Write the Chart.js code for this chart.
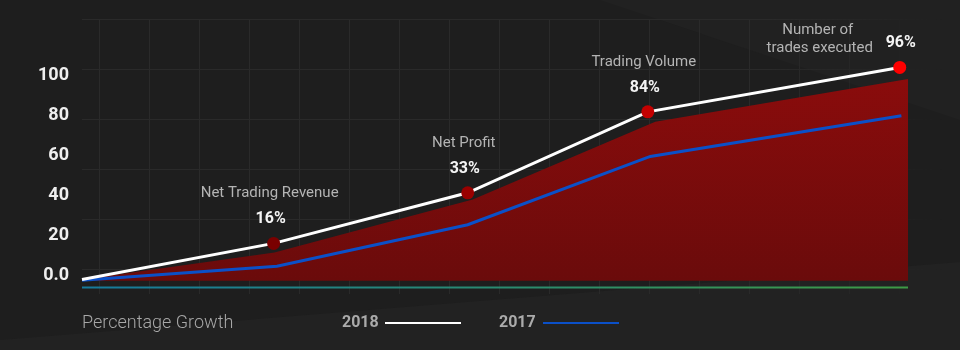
<!DOCTYPE html>
<html>
<head>
<meta charset="utf-8">
<script src="https://cdn.jsdelivr.net/npm/chart.js@4.4.1/dist/chart.umd.min.js"></script>
<style>
  html, body { margin: 0; padding: 0; background: #1e1e1e; }
  #wrap { position: relative; width: 960px; height: 350px; overflow: hidden; background: #1e1e1e; font-family: Roboto, "Noto Sans", sans-serif; }
  .shade { position: absolute; inset: 0; background: #222222; }
  #shade1 { clip-path: polygon(0 350px, 0 340px, 960px 262px, 960px 350px); }
  #shade2 { clip-path: polygon(600px 0, 960px 0, 960px 120px); background: #212121; }
  #grid {
    position: absolute; left: 82px; top: 19px; width: 860px; height: 275px;
    background-image:
      linear-gradient(to right, #2a2a2a 1px, transparent 1px),
      linear-gradient(to bottom, #2a2a2a 1px, transparent 1px);
    background-size: 50px 50px;
    background-position: 17px 0, 0 0;
    -webkit-mask-image: linear-gradient(to right, #000 80%, transparent);
  }
  canvas { position: absolute; left: 0; top: 0; }
  .leg { position: absolute; top: 311px; height: 22px; line-height: 22px; color: #a8a8a8; }
  #legTitle { left: 82px; font-size: 18px; font-weight: 300; }
  .legItem { font-size: 16px; font-weight: bold; color: #ababab; }
  .legLine { position: absolute; top: 11px; height: 2px; width: 76px; }
</style>
</head>
<body>
<div id="wrap">
  <div class="shade" id="shade1"></div>
  <div class="shade" id="shade2"></div>
  <div id="grid"></div>
  <canvas id="chart" width="960" height="350"></canvas>
  <div class="leg" id="legTitle">Percentage Growth</div>
  <div class="leg legItem" id="leg2018" style="left:342px">2018<span class="legLine" style="left:43px;background:#ffffff"></span></div>
  <div class="leg legItem" id="leg2017" style="left:499px">2017<span class="legLine" style="left:44px;background:#0b50c8"></span></div>
</div>
<script>
// --- Data ---
const yTicks = [0, 20, 40, 60, 80, 100];

const x2018 = [0, 23.2, 46.7, 68.5, 99.0];
const y2018 = [-2.8, 15.2, 40.4, 80.7, 102.8];

const x2017 = [0, 23.6, 46.7, 68.8, 99.2];
const y2017 = [-3.1, 3.8, 24.5, 58.5, 78.8];

const xArea = [0, 23.3, 47.3, 69.4, 100];
const yArea = [-2.8, 10.7, 37.0, 75.8, 97.0];
const areaBase = -3.4;

const xBase = [0, 100];
const yBase = [-6.8, -6.8];

const pointNames = [null, ["Net Trading Revenue"], ["Net Profit"], ["Trading Volume"], ["Number of", "trades executed"]];
const pointPercents = [null, "16%", "33%", "84%", "96%"];
const pointColors = ["rgba(0,0,0,0)", "#7a0000", "#990000", "#c40000", "#ff0000"];

const zip = (xs, ys) => xs.map((x, i) => ({ x, y: ys[i] }));

// --- Gradients (built from chart area) ---
function areaGradient(ctx) {
  const area = ctx.chart.chartArea;
  if (!area) return "#7a0c0c";
  const g = ctx.chart.ctx.createLinearGradient(0, area.top, 0, area.bottom);
  g.addColorStop(0, "#8e0c0c");
  g.addColorStop(1, "#690b0b");
  return g;
}
function baseGradient(ctx) {
  const area = ctx.chart.chartArea;
  if (!area) return "#1a7f9c";
  const g = ctx.chart.ctx.createLinearGradient(area.left, 0, area.right, 0);
  g.addColorStop(0, "#167a9c");
  g.addColorStop(1, "#3d9a45");
  return g;
}

// --- Labels above the 2018 points ---
const pointLabels = {
  id: "pointLabels",
  afterDatasetsDraw(chart) {
    const ctx = chart.ctx;
    const pts = chart.getDatasetMeta(3).data;
    ctx.save();
    ctx.textAlign = "center";
    ctx.textBaseline = "middle";
    pts.forEach((p, i) => {
      if (!pointNames[i]) return;
      const last = i === pts.length - 1;
      ctx.font = "bold 16px Roboto";
      ctx.fillStyle = "#f4f4f4";
      ctx.fillText(pointPercents[i], p.x + (last ? 1 : -3), p.y - 24);
      ctx.font = "15px Roboto";
      ctx.fillStyle = "#b4b4b4";
      if (last) {
        ctx.fillText(pointNames[i][0], p.x - 82, p.y - 37);
        ctx.fillText(pointNames[i][1], p.x - 80, p.y - 19);
      } else {
        ctx.fillText(pointNames[i][0], p.x - 4, p.y - 50);
      }
    });
    ctx.restore();
  }
};

new Chart(document.getElementById("chart"), {
  type: "line",
  data: {
    datasets: [
      {
        label: "area",
        order: 3,
        data: zip(xArea, yArea),
        borderWidth: 0,
        pointRadius: 0,
        backgroundColor: areaGradient,
        fill: { value: areaBase },
        tension: 0
      },
      {
        label: "base",
        order: 2,
        data: zip(xBase, yBase),
        borderWidth: 2,
        borderColor: baseGradient,
        pointRadius: 0,
        fill: false
      },
      {
        label: "2017",
        order: 1,
        data: zip(x2017, y2017),
        borderColor: "#0b50c8",
        borderWidth: 3,
        pointRadius: 0,
        fill: false,
        tension: 0
      },
      {
        label: "2018",
        order: 0,
        data: zip(x2018, y2018),
        borderColor: "#ffffff",
        borderWidth: 3,
        pointRadius: [0, 6.5, 6.5, 6.5, 6.5],
        pointBackgroundColor: pointColors,
        pointBorderWidth: 0,
        fill: false,
        tension: 0,
        clip: false
      }
    ]
  },
  options: {
    responsive: false,
    animation: false,
    layout: { padding: { left: 30, right: 52, top: 53, bottom: 60 } },
    plugins: { legend: { display: false }, tooltip: { enabled: false } },
    scales: {
      x: { type: "linear", min: 0, max: 100, display: false },
      y: {
        type: "linear",
        min: -8,
        max: 110,
        afterBuildTicks(scale) { scale.ticks = yTicks.map(v => ({ value: v })); },
        afterFit(scale) { scale.width = 52; },
        grid: { display: false, drawTicks: false },
        border: { display: false },
        ticks: {
          padding: 13,
          labelOffset: 2,
          color: "#eeeeee",
          font: { family: "Roboto", size: 18, weight: "bold" },
          callback: v => (v === 0 ? "0.0" : v)
        }
      }
    }
  },
  plugins: [pointLabels]
});
</script>
</body>
</html>
